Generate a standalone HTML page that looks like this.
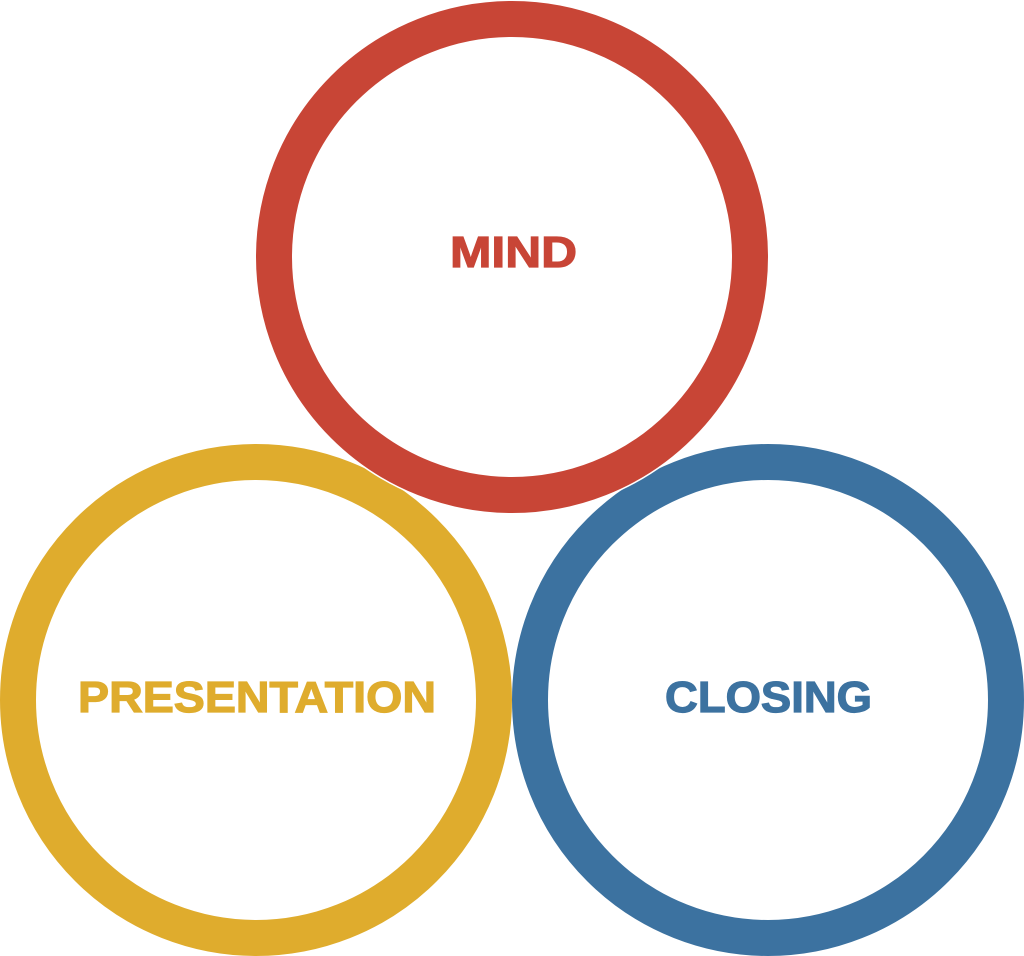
<!DOCTYPE html>
<html><head><meta charset="utf-8"><style>
html,body{margin:0;padding:0;background:#fff;}
svg{display:block}
text{font-family:"Liberation Sans",sans-serif;font-weight:bold;}
</style></head><body>
<svg width="1024" height="956" viewBox="0 0 1024 956" xmlns="http://www.w3.org/2000/svg">
<circle cx="256" cy="700" r="238" fill="none" stroke="#DFAC2D" stroke-width="36"/>
<circle cx="768" cy="700" r="238" fill="none" stroke="#3C72A0" stroke-width="36"/>
<circle cx="512" cy="257" r="239.5" fill="#fff" stroke="#fff" stroke-width="36"/>
<circle cx="512" cy="257" r="238" fill="#fff" stroke="#C84536" stroke-width="36"/>
<text x="450" y="267" font-size="44" fill="#C84536" stroke="#C84536" stroke-width="1.2" textLength="127" lengthAdjust="spacingAndGlyphs">MIND</text>
<text x="78" y="712" font-size="44" fill="#DFAC2D" stroke="#DFAC2D" stroke-width="1.2" textLength="358" lengthAdjust="spacingAndGlyphs">PRESENTATION</text>
<text x="665" y="712" font-size="44" fill="#3C72A0" stroke="#3C72A0" stroke-width="1.2" textLength="207" lengthAdjust="spacingAndGlyphs">CLOSING</text>
</svg>
</body></html>
